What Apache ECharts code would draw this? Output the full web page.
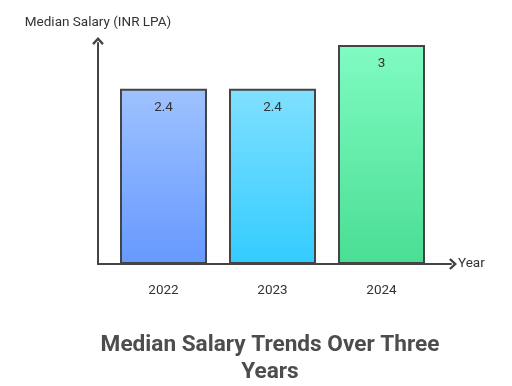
<!DOCTYPE html>
<html><head><meta charset="utf-8">
<script src="https://cdn.jsdelivr.net/npm/echarts@6/dist/echarts.min.js"></script>
<style>html,body{margin:0;padding:0;background:#fff}#c{width:512px;height:386px}</style>
</head><body><div id="c"></div>
<script>
const categories = ['2022', '2023', '2024'];
const values = [2.4, 2.4, 3];
const topColors = ['#9fc2ff', '#80e0ff', '#80fbc2'];
const bottomColors = ['#6699ff', '#33ccff', '#4ade94'];
const titleText = 'Median Salary Trends Over Three\nYears';
const yName = 'Median Salary (INR LPA)';
const xName = 'Year';

const chev = 'path://M0,6.5 L6,0 L12,6.5 L10.3,8.3 L6,3.6 L1.7,8.3 Z';
const chart = echarts.init(document.getElementById('c'));
chart.setOption({
  animation: false,
  title: {
    text: titleText, left: 265, textAlign: 'center', top: 327,
    textStyle: {fontFamily: 'Roboto', fontWeight: 'bold', fontSize: 22.6, color: '#4d4d4d', lineHeight: 27}
  },
  grid: [
    {left: 98, right: 61, top: 43, bottom: 122},
    {left: 109, right: 76, top: 45, bottom: 122}
  ],
  xAxis: [
    {gridIndex: 0, type: 'value', min: 0, max: 1, splitLine: {show: false}, axisTick: {show: false}, axisLabel: {show: false},
     axisLine: {show: true, lineStyle: {color: '#444', width: 2}, symbol: ['none', chev], symbolSize: [12, 8], symbolOffset: [0, 2]},
     name: xName, nameGap: 7, nameTextStyle: {fontFamily: 'Roboto', fontSize: 13.5, color: '#333'}},
    {gridIndex: 1, type: 'category', data: categories, axisLine: {show: false}, axisTick: {show: false},
     axisLabel: {margin: 20, fontFamily: 'Roboto', fontSize: 13.5, color: '#333'}}
  ],
  yAxis: [
    {gridIndex: 0, type: 'value', min: 0, max: 1, splitLine: {show: false}, axisTick: {show: false}, axisLabel: {show: false},
     axisLine: {show: true, lineStyle: {color: '#444', width: 2}, symbol: ['none', chev], symbolSize: [12, 8], symbolOffset: [0, 2]},
     name: yName, nameGap: 13, nameLocation: 'end',
     nameTextStyle: {fontFamily: 'Roboto', fontSize: 13.5, color: '#333', align: 'center'}},
    {gridIndex: 1, type: 'value', min: 0, max: 3, show: false}
  ],
  series: [{
    type: 'bar', xAxisIndex: 1, yAxisIndex: 1, barWidth: 87,
    data: values.map((v, i) => ({
      value: v,
      itemStyle: {
        color: new echarts.graphic.LinearGradient(0, 0, 0, 1, [
          {offset: 0, color: topColors[i]}, {offset: 1, color: bottomColors[i]}
        ]),
        borderColor: '#444', borderWidth: 2
      }
    })),
    label: {show: true, position: 'insideTop', distance: 12, fontFamily: 'Roboto', fontSize: 13.5, color: '#333'}
  }]
});
</script></body></html>
